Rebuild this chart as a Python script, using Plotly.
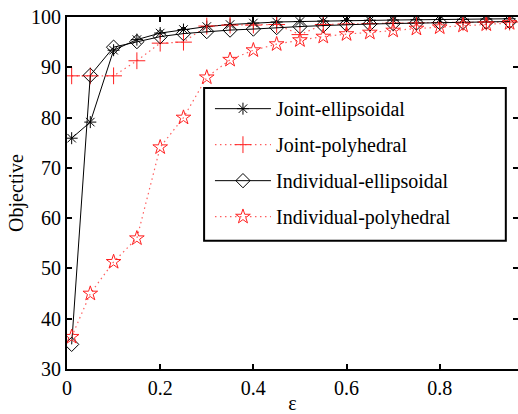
import plotly.graph_objects as go

eps = [0.01, 0.05, 0.10, 0.15, 0.20, 0.25, 0.30, 0.35, 0.40, 0.45,
       0.50, 0.55, 0.60, 0.65, 0.70, 0.75, 0.80, 0.85, 0.90, 0.95]

joint_ellipsoidal = [75.9, 79.1, 93.4, 95.5, 96.8, 97.5, 98.1, 98.5, 98.8, 99.0,
                     99.1, 99.2, 99.3, 99.35, 99.4, 99.45, 99.5, 99.55, 99.6, 99.65]
joint_polyhedral = [88.3, 88.3, 88.3, 91.3, 94.8, 95.0, 98.2, 98.4, 98.4, 98.5,
                    96.5, 98.5, 98.6, 98.7, 98.8, 98.85, 98.9, 98.95, 99.0, 99.0]
individual_ellipsoidal = [34.9, 88.4, 94.0, 95.1, 96.1, 96.7, 97.1, 97.4, 97.6, 97.9,
                          98.1, 98.3, 98.5, 98.6, 98.7, 98.8, 98.9, 98.95, 99.0, 99.1]
individual_polyhedral = [36.4, 45.0, 51.3, 56.0, 74.1, 80.0, 88.0, 91.5, 93.4, 94.6,
                         95.4, 96.1, 96.6, 96.9, 97.3, 97.7, 97.95, 98.3, 98.55, 98.8]

names = ["Joint-ellipsoidal", "Joint-polyhedral", "Individual-ellipsoidal", "Individual-polyhedral"]

FONT = "Liberation Serif"
RED = "#ff2020"
RED_LINE = "rgba(255,40,40,0.75)"
DOT = "1.5px,3.5px"

fig = go.Figure()
fig.add_trace(go.Scatter(
    x=eps, y=joint_ellipsoidal, name=names[0], mode="lines+markers", legendgroup="a",
    line=dict(color="black", width=1),
    marker=dict(symbol="asterisk-open", size=10, color="black", line=dict(color="black", width=1))))
fig.add_trace(go.Scatter(
    x=eps, y=joint_polyhedral, name=names[1], mode="lines+markers", legendgroup="b",
    line=dict(color=RED_LINE, width=1.2, dash=DOT),
    marker=dict(symbol="cross-thin-open", size=12, color=RED, line=dict(color=RED, width=1))))
fig.add_trace(go.Scatter(
    x=eps, y=individual_ellipsoidal, name=names[2], mode="lines+markers", legendgroup="c",
    line=dict(color="black", width=1),
    marker=dict(symbol="diamond-open", size=11, color="black", line=dict(color="black", width=1))))
fig.add_trace(go.Scatter(
    x=eps, y=individual_polyhedral, name=names[3], mode="lines+markers", legendgroup="d",
    line=dict(color=RED_LINE, width=1.2, dash=DOT),
    marker=dict(symbol="star-open", size=11, color=RED, line=dict(color=RED, width=1))))

fig.update_layout(
    width=518, height=414,
    margin=dict(l=67, r=0, t=17, b=45),
    paper_bgcolor="white", plot_bgcolor="white",
    font=dict(family=FONT, size=20, color="black"),
    showlegend=True,
    legend=dict(
        x=0.317, y=0.795, xanchor="left", yanchor="top",
        bgcolor="rgba(0,0,0,0)", borderwidth=0,
        font=dict(family=FONT, size=20, color="black"),
        tracegroupgap=7, itemwidth=56,
    ),
    shapes=[dict(type="rect", xref="paper", yref="paper",
                 x0=0.304, x1=0.973, y0=0.364, y1=0.798,
                 line=dict(color="black", width=2), fillcolor="white", layer="above")],
)
fig.update_xaxes(
    range=[0, 0.968], tickvals=[0, 0.2, 0.4, 0.6, 0.8], ticktext=["0", "0.2", "0.4", "0.6", "0.8"],
    ticks="inside", ticklen=5, tickwidth=2, tickcolor="black",
    showline=True, linecolor="black", linewidth=2, mirror="ticks",
    showgrid=False, zeroline=False, automargin=False, ticklabeloverflow="allow",
    title=dict(text="ε", font=dict(family=FONT, size=20), standoff=2),
)
fig.update_yaxes(
    range=[30, 100], tickvals=[30, 40, 50, 60, 70, 80, 90, 100],
    ticks="inside", ticklen=5, tickwidth=2, tickcolor="black",
    showline=True, linecolor="black", linewidth=2, mirror="ticks",
    showgrid=False, zeroline=False, automargin=False, ticklabeloverflow="allow",
    title=dict(text="Objective", font=dict(family=FONT, size=20), standoff=2),
)

fig.write_html("out.html", config={"displayModeBar": False},
               post_script="document.body.style.margin='0';")
